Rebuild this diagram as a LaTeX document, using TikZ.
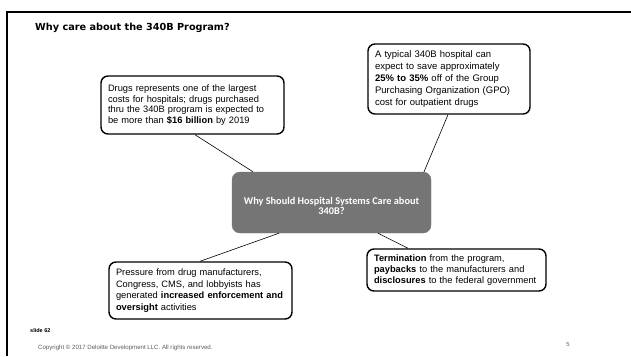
\documentclass[tikz,border=0pt]{standalone}
\usepackage{fontspec}
\setmainfont{Liberation Sans}
\newfontfamily\titlefont{DejaVu Sans}
\newfontfamily\calfont{Carlito}
\definecolor{hubgray}{RGB}{117,117,117}
\definecolor{footgray}{RGB}{90,90,90}
\tikzset{
  callout/.style={draw=black, line width=1.4pt, rounded corners=7pt, fill=white,
    inner xsep=7pt, inner ysep=0pt, align=left, anchor=center},
  hub/.style={fill=hubgray, draw=hubgray, rounded corners=8pt, inner sep=0pt, anchor=center},
  conn/.style={draw=black, line width=0.6pt},
  frameline/.style={draw=black, line width=2pt},
}
\begin{document}
\begin{tikzpicture}[x=1pt, y=-1pt]
\useasboundingbox (0,0) rectangle (631,356);
\draw[frameline] (631,12) -- (7,12) -- (7,356);

\node[anchor=base west, inner sep=0pt, font=\titlefont\bfseries\fontsize{9.7}{11}\selectfont] (title) at (35,30.5) {Why care about the 340B Program?};

\node[callout, text width=169pt, minimum height=58pt, font=\fontsize{9.3}{10.4}\selectfont] (b1) at (192.5,105)
 {Drugs represents one of the largest\\costs for hospitals; drugs purchased\\thru the 340B program is expected to\\be more than \textbf{\$16 billion} by 2019};

\node[callout, text width=148pt, minimum height=70pt, font=\fontsize{9.5}{11.8}\selectfont] (b2) at (449,79)
 {A typical 340B hospital can\\expect to save approximately\\\textbf{25\% to 35\%} off of the Group\\Purchasing Organization (GPO)\\cost for outpatient drugs};

\node[hub, minimum width=199pt, minimum height=61pt] (c) at (331.5,202.5) {};
\node[inner sep=0pt, align=center, text=white, font=\calfont\bfseries\fontsize{10.3}{10.6}\selectfont] (ctext) at (331.5,206)
 {Why Should Hospital Systems Care about\\340B?};

\node[callout, text width=169pt, minimum height=57pt, font=\fontsize{9.3}{11.6}\selectfont] (b3) at (200.5,290.5)
 {Pressure from drug manufacturers,\\Congress, CMS, and lobbyists has\\generated \textbf{increased enforcement and}\\\textbf{oversight} activities};

\node[callout, text width=165pt, minimum height=42pt, font=\fontsize{9.3}{10.8}\selectfont] (b4) at (456.5,270)
 {\textbf{Termination} from the program,\\\textbf{paybacks} to the manufacturers and\\\textbf{disclosures} to the federal government};

\draw[conn] (b1.south -| 195,0) -- (c.north -| 253,0);
\draw[conn] (b2.south -| 448,0) -- (c.north -| 424,0);
\draw[conn] (b3.north -| 200,0) -- (c.south -| 279,0);
\draw[conn] (b4.north -| 408,0) -- (c.south -| 378,0);

\node[anchor=west, inner sep=0pt, font=\bfseries\fontsize{5.5}{6}\selectfont] (slide) at (30,331) {slide 62};
\node[anchor=west, inner sep=0pt, text=footgray, font=\fontsize{6.1}{7}\selectfont] (copy) at (38,348) {Copyright \textcopyright{} 2017 Deloitte Development LLC. All rights reserved.};
\node[inner sep=0pt, text=footgray, font=\fontsize{5.8}{6}\selectfont] (pnum) at (568,345) {5};
\end{tikzpicture}
\end{document}
